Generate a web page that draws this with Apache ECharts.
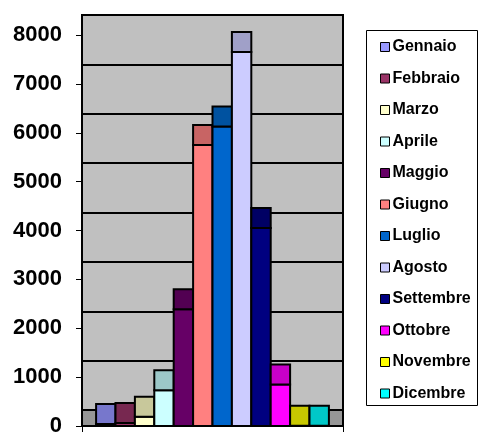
<!DOCTYPE html>
<html><head><meta charset="utf-8">
<script src="https://cdn.jsdelivr.net/npm/echarts@6/dist/echarts.min.js"></script>
<style>html,body{margin:0;padding:0;background:#fff}#c{width:478px;height:437px}</style>
</head><body><div id="c"></div>
<script>
var months = ['Gennaio','Febbraio','Marzo','Aprile','Maggio','Giugno','Luglio','Agosto','Settembre','Ottobre','Novembre','Dicembre'];
var values = [40, 60, 190, 730, 2390, 5750, 6130, 7650, 4050, 850, 5, 5];
var yTicks = [0, 1000, 2000, 3000, 4000, 5000, 6000, 7000, 8000];

var frontColors = ['#9999ff','#993366','#ffffcc','#ccffff','#660066','#ff8080','#0066cc','#ccccff','#000080','#ff00ff','#ffff00','#00ffff'];
var capColors = ['#7777cc','#772850','#c8c89b','#9cc8c8','#520052','#c86464','#0052a0','#a0a0c8','#000064','#c800c8','#c8c800','#00c8c8'];
var DEPTH = 20, GAP_RATIO = 0.054;

function makeRender(i){
  return function(params, api){
    var v = api.value(1);
    var base = api.coord([0, 0]);
    var top = api.coord([0, v]);
    var band = api.size([1, 0])[0];
    var gap = band * GAP_RATIO;
    var w = (band - 2 * gap) / months.length;
    var x0 = base[0] - band / 2 + gap + i * w;
    return {type:'group', children:[
      {type:'rect', shape:{x:x0, y:top[1], width:w, height:base[1]-top[1]}, style:{fill:frontColors[i], stroke:'#000', lineWidth:2}},
      {type:'rect', shape:{x:x0, y:top[1]-DEPTH, width:w, height:DEPTH}, style:{fill:capColors[i], stroke:'#000', lineWidth:2}}
    ]};
  };
}

var series = months.map(function(m, i){
  return {type:'custom', name:m, xAxisIndex:0, yAxisIndex:0, z:10,
    itemStyle:{color:frontColors[i]},
    renderItem: makeRender(i), encode:{x:0, y:1}, data:[[0, values[i]]]};
});

var chart = echarts.init(document.getElementById('c'));
chart.setOption({
  animation:false,
  backgroundColor:'#fff',
  graphic:[{type:'rect', z:0, shape:{x:366.5, y:30.5, width:111, height:375}, style:{fill:'#fff', stroke:'#000', lineWidth:1}}],
  grid:[
    {left:82, right:135, top:35, bottom:7, show:true, backgroundColor:'#969696', borderColor:'#000', borderWidth:2, z:0},
    {left:82, right:135, top:15, bottom:27, show:true, backgroundColor:'#c0c0c0', borderColor:'#000', borderWidth:2, z:1}
  ],
  xAxis:[
    {type:'category', gridIndex:0, data:[''], z:3, axisLine:{show:true, lineStyle:{color:'#000', width:2}}, axisTick:{show:true, length:6, lineStyle:{color:'#000'}}, axisLabel:{show:false}},
    {type:'category', gridIndex:1, data:[''], z:2, show:false}
  ],
  yAxis:[
    {type:'value', gridIndex:0, min:yTicks[0], max:yTicks[yTicks.length-1], interval:1000, z:3,
     axisLine:{show:true, lineStyle:{color:'#000', width:2}},
     axisTick:{show:true, length:6, lineStyle:{color:'#000'}},
     splitLine:{show:false},
     axisLabel:{margin:20, color:'#000', fontFamily:'Liberation Sans, Arial', fontWeight:'bold', fontSize:22,
       formatter:function(v){ return String(v); }}},
    {type:'value', gridIndex:1, min:yTicks[0], max:yTicks[yTicks.length-1], interval:1000, z:2,
     axisLine:{show:false}, axisTick:{show:false}, axisLabel:{show:false},
     splitLine:{show:true, lineStyle:{color:'#000', width:2}}}
  ],
  legend:{orient:'vertical', left:380, top:39, padding:0, z:5, itemWidth:9, itemHeight:9, itemGap:15.5,
    icon:'rect', data:months,
    itemStyle:{borderColor:'#000', borderWidth:1},
    textStyle:{color:'#000', fontFamily:'Liberation Sans, Arial', fontWeight:'bold', fontSize:16, lineHeight:16, padding:[0,0,0,-2]}},
  series:series
});
</script></body></html>
